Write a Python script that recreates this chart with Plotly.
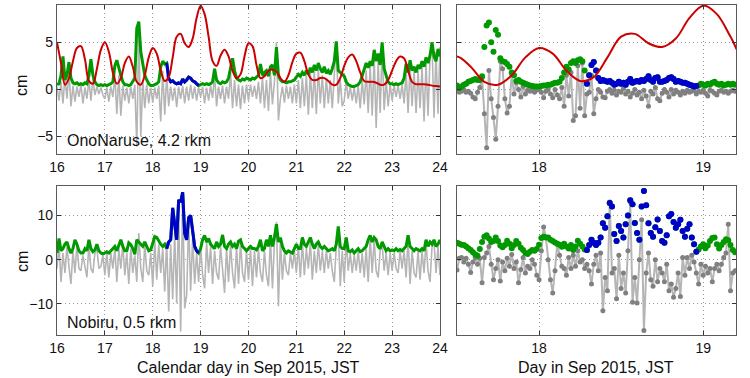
import numpy as np
import plotly.graph_objects as go

# ---------------- data ----------------
# hourly series, 16.0 .. 24.0 (Sep 2015, JST), step 1 h
HOUR_START, HOUR_STEP = 16.0, 1.0 / 24.0
# 20-min series for the zoomed panels, 17.5 .. 19.19
Z_START, Z_STEP = 17.5, 1.0 / 72.0
# 2-hourly predicted curve (red), 16.0 .. 24.0
RED_START, RED_STEP = 16.0, 1.0 / 12.0
# window shown in blue
BLUE_T0, BLUE_T1 = 18.28, 18.965

ono_red = [5.0, 2.8, 0.5, 1.2, 3.0, 4.4, 4.6, 3.2, 0.9, 0.6, 2.2, 4.2,
           5.0, 4.0, 1.8, 0.6, 1.2, 2.8, 3.5, 2.4, 0.8, 0.5, 1.5, 3.4,
           4.4, 3.8, 2.0, 0.9, 1.3, 3.4, 5.6, 5.9, 4.9, 4.5, 5.4, 7.6,
           8.9, 8.0, 5.6, 3.0, 2.5, 3.6, 4.2, 3.5, 2.0, 1.2, 1.6, 3.5,
           4.9, 4.6, 2.6, 1.2, 1.4, 2.0, 2.1, 1.9, 1.2, 0.8, 1.5, 2.9,
           3.8, 3.9, 3.0, 1.6, 1.0, 1.0, 1.2, 1.2, 0.9, 0.5, 0.5, 1.2,
           2.5, 3.4, 3.7, 3.0, 1.8, 0.9, 0.8, 0.8, 0.7, 0.5, 0.5, 1.0,
           2.0, 3.0, 3.5, 3.3, 2.0, 0.8, 0.55, 0.55, 0.55, 0.5, 0.4, 0.35,
           0.3]

ono_env_h = [0.5, 0.6, 1.5, 3.5, 1.0, 1.5, 2.9, 1.2, 0.7, 0.6, 0.7, 0.5, 0.6, 0.5, 0.7, 0.6, 1.5, 3.2, 1.5, 0.8, 0.5, 0.4, 0.5, 0.4,
             0.5, 0.4, 0.5, 0.6, 0.8, 2.5, 3.1, 2.2, 1.5, 0.8, 0.5, 0.5, 0.4, 0.5, 0.8, 1.2, 6.5, 7.2, 4.0, 2.5, 1.5, 1.0, 0.6, 0.4,
             0.4, 0.5, 0.6, 0.8, 2.4, 3.0, 2.7, 2.8, 1.2, 0.8, 0.9, 0.7, 0.6, 0.7, 0.6, 1.1, 0.8, 1.0, 1.3, 1.2, 0.9, 0.8, 0.6, 0.4,
             0.5, 0.6, 0.5, 0.6, 0.5, 0.6, 0.8, 2.2, 1.0, 0.7, 0.6, 0.8, 0.7, 0.8, 1.2, 2.5, 3.3, 2.0, 1.2, 1.0, 0.9, 1.1, 1.0, 1.2,
             1.1, 1.0, 1.2, 1.1, 1.3, 1.5, 2.7, 1.5, 1.8, 2.0, 1.4, 2.4, 2.6, 1.5, 4.5, 1.5, 1.0, 0.8, 0.8, 0.7, 0.8, 0.8, 0.9, 1.0,
             1.3, 1.6, 1.4, 1.8, 1.5, 2.0, 1.6, 2.3, 1.8, 2.6, 2.0, 2.8, 2.2, 1.8, 2.4, 1.7, 2.0, 1.6, 2.2, 3.0, 5.1, 2.0, 1.8, 1.6,
             1.4, 0.8, 0.5, 0.4, 0.3, 0.3, 0.4, 0.5, 0.8, 1.5, 2.2, 2.8, 2.3, 3.0, 2.5, 4.2, 3.0, 3.8, 2.6, 5.0, 2.2, 1.5, 0.8, 0.6,
             0.6, 0.5, 0.6, 0.5, 0.6, 0.7, 1.2, 2.7, 1.8, 3.1, 2.0, 2.4, 1.8, 2.6, 2.2, 3.0, 2.4, 3.4, 2.8, 3.6, 5.0, 3.5, 3.0, 4.3,
             3.5]

ono_raw_h = [0.3, -1.2, 0.8, -1.5, 1.5, -1.0, 2.0, -1.8, 0.4, -1.3, 0.3, -0.8, 0.5, -1.5, 0.2, -1.0, 1.0, -1.2, 1.2, -0.6, 0.3, -0.5, 0.2, -0.6,
             -1.0, 0.2, -1.3, 0.3, -0.8, 1.5, -2.6, 1.5, -2.8, 0.4, -1.2, 0.2, -1.5, 0.3, -1.0, 0.5, -6.1, 6.5, -5.0, 1.0, -2.0, 0.5, -1.5, 0.2,
             -1.4, 0.2, -1.0, 0.4, -3.4, 2.0, -2.7, 1.5, -1.8, 0.3, -1.2, 0.2, -1.9, 0.3, -1.0, 0.4, -1.5, 0.3, -1.2, 0.5, -1.0, 0.3, -1.2, 0.2,
             -0.8, 0.3, -1.5, 0.2, -1.2, 0.4, -0.9, 1.5, -1.8, 0.3, -1.0, 0.4, -1.5, 0.3, -1.0, 1.8, -2.0, 1.0, -1.8, 0.5, -2.1, 0.4, -1.5, 0.5,
             -1.2, 0.5, -0.8, 0.4, -1.0, 0.8, -1.5, 1.2, -2.0, 1.0, -2.3, 1.8, -1.6, 0.8, 5.0, -3.3, -1.0, 0.3, -1.4, 0.4, -1.0, 0.3, -1.5, 0.5,
             -1.5, 1.0, -2.0, 1.2, -1.8, 1.5, -2.7, 1.8, -2.0, 2.0, -2.6, 2.2, -1.5, 1.5, -2.0, 1.2, -1.5, 1.0, -2.0, 2.0, 5.0, -1.5, 1.0, -1.8,
             -1.2, 0.8, -1.0, 0.3, -1.2, 0.2, -1.5, 0.4, -2.0, 1.0, -1.6, 2.0, -2.5, 2.5, -2.8, 3.5, -4.1, 3.0, -2.5, 4.5, -2.2, 1.0, -1.8, 0.5,
             -1.2, 0.4, -0.8, 0.4, -1.0, 0.5, -1.5, 2.0, -2.5, 2.5, -1.8, 2.0, -2.5, 2.0, -2.0, 2.5, -3.4, 2.8, -2.8, 3.5, 5.0, -3.0, 4.0, -2.6,
             4.5]

nob_env_h = [1.5, 4.8, 2.0, 2.5, 3.5, 4.0, 2.5, 1.5, 2.5, 4.5, 3.5, 2.0, 1.5, 1.5, 2.5, 2.0, 4.5, 2.5, 1.8, 2.2, 3.5, 2.0, 1.5, 1.3,
             1.5, 1.8, 1.5, 2.0, 2.5, 3.0, 2.0, 3.3, 4.5, 3.0, 2.0, 2.0, 3.8, 3.4, 2.5, 1.2, 4.5, 4.0, 3.5, 3.0, 4.0, 3.0, 2.0, 2.2,
             3.5, 5.2, 5.0, 4.2, 3.5, 3.0, 3.5, 2.5, 4.0, 4.5, 11.7, 8.0, 4.5, 13.5, 13.0, 15.2, 6.0, 4.5, 9.5, 10.0, 7.0, 3.0, 2.0, 1.5,
             2.5, 4.5, 5.5, 4.0, 4.8, 3.5, 3.0, 2.5, 4.0, 3.0, 3.5, 5.6, 3.0, 2.5, 3.5, 4.0, 3.0, 3.5, 2.5, 4.2, 4.5, 3.0, 2.5, 2.0,
             2.5, 3.0, 2.5, 2.5, 2.2, 3.0, 4.5, 2.0, 2.5, 4.5, 3.0, 5.5, 3.0, 5.0, 8.0, 4.0, 5.0, 3.0, 2.0, 1.5, 2.0, 1.8, 1.5, 2.5,
             3.5, 2.5, 2.5, 5.0, 3.5, 3.0, 4.0, 5.0, 3.5, 2.5, 3.5, 4.0, 3.0, 2.5, 3.0, 2.5, 2.0, 2.2, 2.5, 2.0, 3.5, 7.5, 3.0, 2.5,
             2.5, 5.0, 2.0, 1.8, 2.2, 1.5, 2.0, 2.5, 1.8, 2.0, 2.5, 3.0, 4.5, 5.5, 4.0, 5.0, 4.5, 3.0, 2.5, 4.0, 3.0, 2.0, 2.5, 2.0,
             2.2, 2.0, 2.5, 2.0, 2.3, 2.0, 2.5, 3.0, 5.5, 3.0, 2.5, 2.0, 2.5, 2.2, 2.0, 2.5, 2.0, 4.5, 3.0, 4.0, 3.5, 4.5, 3.0, 3.5,
             4.5]

nob_raw_h = [-2.0, 3.5, -5.0, 1.5, -3.0, 3.0, -1.5, -5.5, 2.0, -3.0, 3.5, -2.0, -2.5, 1.0, -1.5, -4.0, 3.5, -2.0, -3.0, 1.5, 2.5, -2.0, -1.5, 1.0,
             -3.5, 1.5, -4.0, 1.5, -2.0, 2.5, -5.0, 2.5, -2.0, 3.5, -3.5, 1.5, -5.5, 2.5, -3.0, 1.0, -5.0, 6.0, -2.0, -5.0, 3.5, -2.5, -3.5, 1.5,
             -6.0, 4.5, -4.5, 3.5, -3.0, 2.5, -7.2, 4.0, -11.7, 3.5, -9.0, 6.0, -9.8, 12.0, -16.2, 15.0, -11.0, -8.0, 9.0, -7.0, 5.0, -5.5, 1.5, -5.0,
             3.0, -3.5, -6.5, 4.0, -3.0, 3.0, -5.5, 2.0, -3.0, -4.5, 3.0, -2.5, -7.5, 2.5, -5.0, 3.5, -3.0, -6.5, 3.0, -5.5, 4.0, -3.0, -5.0, 2.0,
             -4.5, 2.5, -6.0, 2.0, -4.0, 2.5, -3.0, -5.0, 2.0, -3.5, -6.0, 5.0, -6.5, 4.0, 8.5, -10.5, 4.5, -4.5, 1.5, -2.5, -3.5, 1.5, -2.0, 2.0,
             -3.0, 3.0, -4.0, 4.0, -3.5, 2.5, -2.0, 4.0, -4.5, 2.0, -3.0, 3.5, -2.5, 2.0, -3.0, 2.0, -2.0, 1.5, -2.5, -5.0, 3.0, 7.0, -6.0, 2.0,
             -5.0, 4.5, -2.5, 1.5, -3.0, 1.0, -2.5, 2.0, -3.0, 1.5, -4.0, 2.5, -5.0, 5.0, -3.0, 4.5, -2.5, -4.0, 2.0, 3.5, -2.5, 1.5, -3.5, 1.5,
             -2.5, 1.5, -2.0, -3.0, 2.0, -2.0, 2.0, -4.0, 5.0, -5.5, 2.0, -3.0, -4.0, 2.0, -4.5, 2.0, -3.0, 4.0, -2.5, -5.0, 3.0, 4.0, -3.0, 3.0,
             -3.5]

# zoomed panels (20-min samples)
ono_env_z = [0.4, 0.15, 0.3, 0.5, 0.6, 0.8, 0.9, 1.0, 1.1, 1.0,
             1.0, 1.4, 4.5, 6.8, 7.1, 5.0, 4.0, 6.3, 5.8, 3.3,
             3.0, 2.9, 2.7, 2.4, 1.8, 1.5, 0.9, 1.0, 0.8, 0.7,
             0.6, 0.5, 0.4, 0.35, 0.3, 0.3, 0.3, 0.35, 0.4, 0.4,
             0.5, 0.5, 0.6, 0.7, 0.7, 0.8, 1.2, 1.8, 2.4, 2.1,
             2.8, 3.0, 2.8, 3.1, 3.2, 3.0, 2.0,
             0.6, 1.5, 2.6, 2.9, 2.0, 1.2, 0.9, 1.0, 0.9, 0.8, 0.9, 0.7, 0.5, 0.6, 0.8, 0.6,
             0.7, 0.5, 0.8, 1.1, 0.7, 0.8, 0.9, 0.8, 1.0, 0.9, 1.1, 1.4, 1.0, 0.8, 1.2, 1.3,
             0.8, 0.8, 0.9, 1.0, 1.2, 1.3, 1.1, 0.8, 0.9, 0.8, 0.7, 0.7, 0.6, 0.5, 0.4, 0.3,
             0.35, 0.4, 0.6, 0.5, 0.4, 0.6, 0.5, 0.7, 0.8, 0.6, 0.5, 0.6, 0.4, 0.5, 0.6, 0.5,
             0.6, 0.5]

ono_raw_z = [-0.1, -0.3, -0.2, 0.0, -0.3, -0.2, -0.4, -0.8, -1.0, -0.3,
             0.2, 1.2, -2.6, -6.2, 2.0, -1.0, -3.0, -5.3, -1.8, 3.0,
             2.2, -1.0, -2.5, -1.8, 1.6, -0.5, 0.7, 0.0, -0.8, 0.3,
             -0.5, -0.1, -0.2, 0.0, -0.3, -0.1, 0.1, -0.3, -0.9, -0.2,
             0.0, -0.5, -0.9, 0.0, -0.6, -1.0, 0.2, -1.8, 1.5, -0.7,
             1.8, -3.3, -2.8, 2.5, -2.0, 2.8, -2.8, -0.5, -0.3, 1.5,
             -2.6, -1.0, 0.0, -0.3, -0.8, -0.9, -0.2, 0.0, -0.4, -0.1,
             -0.6, -0.2, -0.3, 0.1, -0.5, -0.2, -0.8, -0.4, 0.0, -0.6,
             -0.3, -1.0, -0.1, -0.7, -1.8, -0.2, -0.5, 0.2, -1.0, -1.2,
             -0.4, 0.0, -0.3, -0.8, 0.0, -0.5, -0.1, -0.3, -0.6, -0.2,
             -0.4, -0.1, -0.3, -0.2, -0.1, -0.5, -0.2, -0.3, -0.1, -0.4,
             -0.7, -0.1, -0.2, -0.4, -0.6, -0.2, -0.1, -0.3, -0.2, -0.4,
             -0.2, -0.1, -0.2]

nob_env_z = [3.8, 3.6, 3.4, 3.3, 3.0, 2.6, 2.2, 1.7, 1.2, 0.9,
             2.4, 4.0, 5.2, 5.5, 4.8, 4.0, 4.2, 5.0, 4.2, 3.2,
             2.8, 3.3, 4.3, 3.6, 2.6, 3.3, 4.2, 3.6, 2.7, 2.2,
             1.5, 1.3, 1.8, 2.2, 2.0, 2.4, 3.4, 4.9, 5.2, 5.0,
             5.0, 4.5, 4.2, 3.9, 3.6, 3.4, 2.9, 3.6, 3.0, 2.5,
             3.3, 2.2, 3.0, 4.3, 3.6, 3.0, 2.3,
             2.2, 3.3, 4.5, 3.8, 3.3, 3.8, 5.0, 8.2, 7.2, 9.8, 12.8, 12.0, 5.8,
             4.2, 7.6, 6.5, 5.0, 8.0, 10.0, 13.4, 12.5, 8.3, 6.0, 4.5, 12.0, 15.5,
             12.3, 8.2, 6.0, 5.2, 7.3, 9.1, 6.5, 4.2, 3.8, 5.5, 9.8, 10.3, 8.5,
             7.2, 8.0, 9.0, 6.5, 5.2, 7.0, 8.0, 5.0, 3.5, 1.8,
             2.3, 3.0, 3.5, 2.6, 3.2, 4.2, 4.9, 5.0, 3.5, 2.5, 3.3, 4.0, 4.6,
             4.4, 3.3, 2.2, 1.7]

nob_raw_z = [-2.3, 0.3, 0.5, -0.5, 0.3, -1.0, -2.9, -0.5, 0.5, -1.0,
             0.3, -5.2, 0.5, 1.5, 3.0, -1.0, -4.5, -2.0, 0.0, -4.8,
             -0.5, -2.5, 0.3, -1.5, 1.2, -2.0, -0.5, -5.2, -2.2, 0.5,
             -3.0, -1.5, -2.0, 0.0, -1.0, -3.5, -4.5, 2.0, 7.4, 5.0,
             0.0, -4.5, -7.5, -2.5, 3.5, 1.0, -1.5, -2.0, -3.5, 0.5,
             -2.0, 1.0, -1.5, 2.0, -0.5, 0.0, -2.0, -1.0, -2.5, -5.5,
             -1.0, 1.0, -2.5, 1.5, -11.5, -4.0, -7.0, 13.0, -3.0, -2.0,
             -8.8, 1.0, -6.5, -3.0, -7.5, 2.0, 13.0, -9.6, -4.0, -9.8,
             0.0, 9.0, -16.0, -3.0, 1.5, -4.5, -6.0, 0.0, -5.0, -2.0,
             -3.0, -5.0, -1.0, -7.0, -5.5, -8.5, -6.5, -3.0, -8.3, 0.5,
             -3.5, 0.5, -2.0, 1.0, -0.5, -3.0, -5.5, -1.0, -3.5, -1.5,
             -3.0, -2.0, -5.0, -2.0, -1.0, -2.5, -1.0, 0.5, 1.5, 8.0,
             -7.0, -3.0, -2.5]

x_ticks_left = [16, 17, 18, 19, 20, 21, 22, 23, 24]
x_ticks_right = [18, 19]
y_ticks_top = [-5, 0, 5]
y_ticks_bottom = [-10, 0, 10]

# ---------------- build ----------------
def times(start, step, n):
    return start + step * np.arange(n)

t_h = times(HOUR_START, HOUR_STEP, len(ono_env_h))
t_z = times(Z_START, Z_STEP, len(ono_env_z))
t_r = times(RED_START, RED_STEP, len(ono_red))

GREY_LINE = "#b5b5b5"
GREY_DOT = "#808080"
GREEN = "#009900"
BLUE = "#0000cc"
RED = "#cc0000"

fig = go.Figure()


def blue_only(t, v):
    v = np.array(v, dtype=float)
    m = (t >= BLUE_T0) & (t <= BLUE_T1)
    return np.where(m, v, np.nan)


def add_left(raw, env, xa, ya, red=None):
    fig.add_trace(go.Scatter(x=t_h, y=raw, mode="lines", line=dict(color=GREY_LINE, width=1.6),
                             xaxis=xa, yaxis=ya, showlegend=False, hoverinfo="skip"))
    fig.add_trace(go.Scatter(x=t_h, y=env, mode="lines", line=dict(color=GREEN, width=3),
                             xaxis=xa, yaxis=ya, showlegend=False, hoverinfo="skip"))
    fig.add_trace(go.Scatter(x=t_h, y=blue_only(t_h, env), mode="lines", line=dict(color=BLUE, width=3),
                             xaxis=xa, yaxis=ya, showlegend=False, hoverinfo="skip", connectgaps=False))
    if red is not None:
        fig.add_trace(go.Scatter(x=t_r, y=red, mode="lines", line=dict(color=RED, width=2, shape="spline"),
                                 xaxis=xa, yaxis=ya, showlegend=False, hoverinfo="skip"))


def add_right(raw, env, xa, ya, red=None):
    fig.add_trace(go.Scatter(x=t_z, y=raw, mode="lines+markers", line=dict(color=GREY_LINE, width=2),
                             marker=dict(color=GREY_DOT, size=5),
                             xaxis=xa, yaxis=ya, showlegend=False, hoverinfo="skip"))
    fig.add_trace(go.Scatter(x=t_z, y=env, mode="markers", marker=dict(color=GREEN, size=6),
                             xaxis=xa, yaxis=ya, showlegend=False, hoverinfo="skip"))
    fig.add_trace(go.Scatter(x=t_z, y=blue_only(t_z, env), mode="markers", marker=dict(color=BLUE, size=6),
                             xaxis=xa, yaxis=ya, showlegend=False, hoverinfo="skip"))
    if red is not None:
        fig.add_trace(go.Scatter(x=t_r, y=red, mode="lines", line=dict(color=RED, width=2, shape="spline"),
                                 xaxis=xa, yaxis=ya, showlegend=False, hoverinfo="skip"))


add_left(ono_raw_h, ono_env_h, "x", "y", ono_red)
add_right(ono_raw_z, ono_env_z, "x2", "y2", ono_red)
add_left(nob_raw_h, nob_env_h, "x3", "y3")
add_right(nob_raw_z, nob_env_z, "x4", "y4")

W, H = 750, 378
FONT = "Liberation Sans, Arial, Helvetica, sans-serif"


def px_x(a, b):
    return [a / W, b / W]


def px_y(top, bottom):
    return [1 - bottom / H, 1 - top / H]


common = dict(showline=True, mirror="ticks", linecolor="#5a5a5a", linewidth=1.2,
              ticks="inside", ticklen=4, tickwidth=1, tickcolor="#333333",
              showgrid=True, gridcolor="#9a9a9a", gridwidth=1, griddash="1px,3px",
              zeroline=False, automargin=False,
              tickfont=dict(family=FONT, size=14, color="#111111"))

XL, XR = px_x(57, 440), px_x(457, 736)
YT, YB = px_y(4.7, 154.3), px_y(185.5, 335)
TOP_RANGE = [-6.9, 9.0]
BOT_RANGE = [-17.0, 16.75]

fig.update_layout(
    template="none",
    width=W, height=H, margin=dict(l=0, r=0, t=0, b=0, pad=0, autoexpand=False),
    paper_bgcolor="white", plot_bgcolor="white", showlegend=False,
    font=dict(family=FONT, size=14, color="#111111"),
    xaxis=dict(domain=XL, anchor="y", range=[16, 24], tickvals=x_ticks_left, **common),
    yaxis=dict(domain=YT, anchor="x", range=TOP_RANGE, tickvals=y_ticks_top, **common),
    xaxis2=dict(domain=XR, anchor="y2", range=[17.5, 19.2], tickvals=x_ticks_right, **common),
    yaxis2=dict(domain=YT, anchor="x2", range=TOP_RANGE, tickvals=y_ticks_top, showticklabels=False, **common),
    xaxis3=dict(domain=XL, anchor="y3", range=[16, 24], tickvals=x_ticks_left, **common),
    yaxis3=dict(domain=YB, anchor="x3", range=BOT_RANGE, tickvals=y_ticks_bottom, **common),
    xaxis4=dict(domain=XR, anchor="y4", range=[17.5, 19.2], tickvals=x_ticks_right, **common),
    yaxis4=dict(domain=YB, anchor="x4", range=BOT_RANGE, tickvals=y_ticks_bottom, showticklabels=False, **common),
)

ann_font = dict(family=FONT, size=16, color="#111111")
annotations = [
    dict(text="cm", x=22 / W, y=1 - 86 / H, textangle=-90),
    dict(text="cm", x=22 / W, y=1 - 262 / H, textangle=-90),
    dict(text="OnoNaruse, 4.2 rkm", x=65 / W, y=1 - 140 / H, xanchor="left"),
    dict(text="Nobiru, 0.5 rkm", x=65 / W, y=1 - 322 / H, xanchor="left"),
    dict(text="Calendar day in Sep 2015, JST", x=248 / W, y=1 - 367 / H),
    dict(text="Day in Sep 2015, JST", x=596 / W, y=1 - 367 / H),
]
for a in annotations:
    a.setdefault("xanchor", "center")
    fig.add_annotation(xref="paper", yref="paper", yanchor="middle", showarrow=False, font=ann_font, **a)

fig.write_html("out.html", config={"responsive": False, "displayModeBar": False},
               post_script="document.body.style.margin='0';document.body.style.overflow='hidden';")
